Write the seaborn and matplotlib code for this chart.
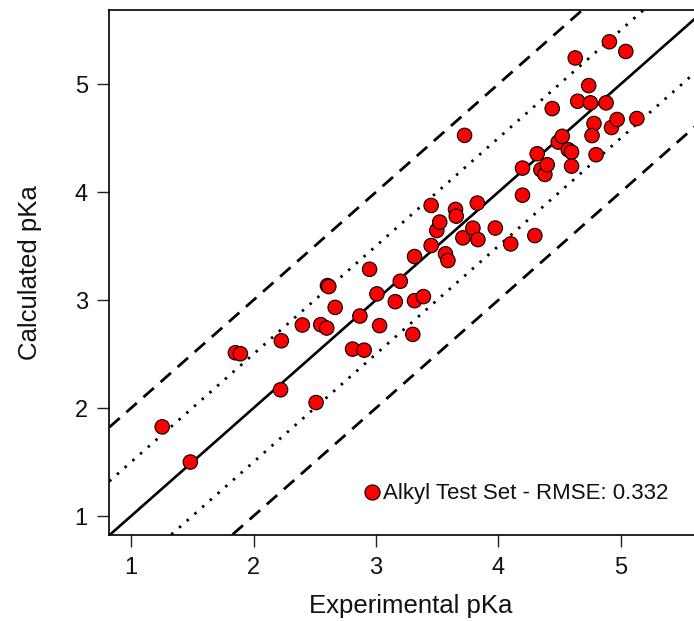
import matplotlib
matplotlib.use("Agg")
import matplotlib.pyplot as plt
import seaborn as sns
import pandas as pd

# Experimental vs calculated pKa
experimental = [1.254, 1.484, 1.852, 1.893, 2.227, 2.221, 2.511, 2.399, 2.549, 2.598,
                2.604, 2.615, 2.667, 2.809, 2.904, 2.869, 2.948, 3.008, 3.030, 3.158,
                3.199, 3.301, 3.315, 3.388, 3.315, 3.451, 3.568, 3.588, 3.451, 3.497,
                3.521, 3.650, 3.656, 3.710, 3.792, 3.833, 3.828, 3.724, 3.975, 4.101,
                4.298, 4.197, 4.197, 4.317, 4.347, 4.380, 4.399, 4.440, 4.489, 4.522,
                4.571, 4.598, 4.598, 4.628, 4.648, 4.738, 4.752, 4.880, 4.781, 4.765,
                4.798, 4.924, 4.970, 5.131, 4.907, 5.041]
calculated = [1.826, 1.500, 2.512, 2.503, 2.623, 2.169, 2.051, 2.769, 2.772, 2.741,
              3.134, 3.125, 2.932, 2.546, 2.536, 2.852, 3.285, 3.057, 2.763, 2.985,
              3.174, 2.682, 2.994, 3.032, 3.403, 3.505, 3.428, 3.366, 3.876, 3.644,
              3.722, 3.839, 3.777, 3.576, 3.666, 3.560, 3.898, 4.525, 3.667, 3.520,
              3.597, 4.222, 3.971, 4.355, 4.207, 4.163, 4.253, 4.773, 4.463, 4.516,
              4.392, 4.370, 4.240, 5.242, 4.841, 4.986, 4.826, 4.826, 4.635, 4.523,
              4.346, 4.598, 4.672, 4.681, 5.392, 5.302]
series_label = "Alkyl Test Set - RMSE: 0.332"

x_ticks = [1, 2, 3, 4, 5]
y_ticks = [1, 2, 3, 4, 5]
solid_offsets = [0.0]
dotted_offsets = [-0.5, 0.5]
dashed_offsets = [-1.0, 1.0]

df = pd.DataFrame({"Experimental pKa": experimental,
                   "Calculated pKa": calculated,
                   "set": series_label})

sns.set_style("ticks")
plt.rcParams["font.family"] = ["Liberation Sans", "DejaVu Sans"]

W, H = 694, 621
fig = plt.figure(figsize=(W / 100, H / 100), dpi=100)
ax = fig.add_axes([109.3 / W, (H - 534.5) / H, (W - 109.3) / W + 0.003, (534.5 - 10) / H])

for off in solid_offsets:
    ax.axline((0, off), slope=1, color="black", lw=1.9, zorder=1)
for off in dotted_offsets:
    ax.axline((0, off), slope=1, color="black", lw=2.0, ls=(0, (0.9, 2.8)), zorder=1)
for off in dashed_offsets:
    ax.axline((0, off), slope=1, color="black", lw=2.0, ls=(0, (5.0, 3.2)), zorder=1)

sns.scatterplot(data=df, x="Experimental pKa", y="Calculated pKa", hue="set",
                palette=["#ff0000"], s=108, edgecolor="black", linewidth=0.8,
                ax=ax, zorder=3, legend=True)

ax.set_xlim(0.822, 5.615)
ax.set_ylim(0.829, 5.686)
ax.set_xticks(x_ticks)
ax.set_yticks(y_ticks)
ax.tick_params(axis="both", direction="out", length=8.5, width=1.0, color="#222222",
               labelsize=17, labelcolor="#111111")
ax.tick_params(axis="x", pad=7.5)
ax.tick_params(axis="y", pad=7)
for side in ["left", "bottom", "top"]:
    ax.spines[side].set_visible(True)
    ax.spines[side].set_linewidth(1.2)
    ax.spines[side].set_color("black")
ax.spines["right"].set_visible(False)

ax.set_xlabel("Experimental pKa", fontsize=18.5, color="#111111")
ax.xaxis.set_label_coords(411 / W, (H - 606) / H, transform=fig.transFigure)
ax.xaxis.label.set_verticalalignment("center")
ax.set_ylabel("Calculated pKa", fontsize=18.5, color="#111111")
ax.yaxis.set_label_coords(30 / W, (H - 273) / H, transform=fig.transFigure)
ax.yaxis.label.set_verticalalignment("center")

leg = ax.legend(loc="center left", bbox_to_anchor=(364.3 / W, (H - 494) / H),
                bbox_transform=fig.transFigure, frameon=False, fontsize=16,
                handlelength=0.7, handletextpad=0.15, borderpad=0, borderaxespad=0,
                markerscale=1.05, title=None)
for t in leg.get_texts():
    t.set_color("#111111")

fig.savefig("out.png", dpi=100)
